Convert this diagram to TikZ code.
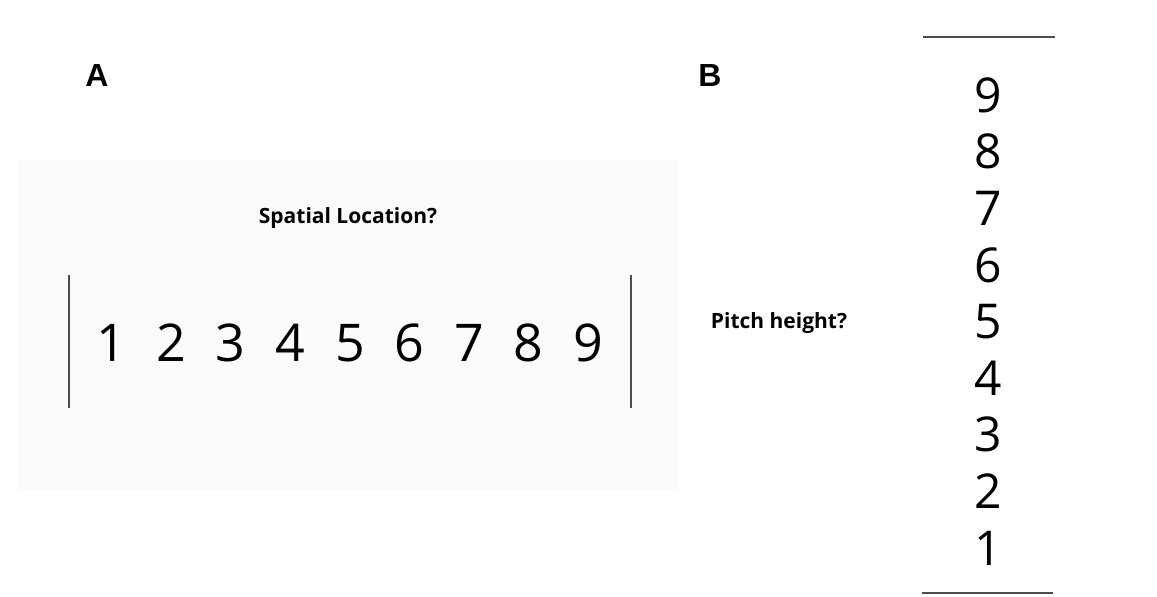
\documentclass[tikz,border=0pt]{standalone}
\usepackage{fontspec}
\setmainfont{Open Sans}
\newfontfamily\labelfont{Liberation Sans}
\usetikzlibrary{positioning}
\definecolor{panelgrey}{RGB}{251,251,251}
\tikzset{
  digit/.style={inner sep=0pt, font=\fontsize{26}{30}\selectfont},
  vdigit/.style={inner sep=0pt, font=\fontsize{24}{28}\selectfont},
  question/.style={inner sep=0pt, font=\fontsize{10.5}{12}\selectfont\bfseries},
  panel/.style={inner sep=0pt, font=\fontsize{16}{18}\selectfont\labelfont\bfseries},
  bar/.style={line width=0.8pt, black!70}
}
\begin{document}
\begin{tikzpicture}[x=0.5pt,y=-0.5pt]
		\useasboundingbox (0,0) rectangle (1157,596);
		%Panel A: horizontal scale
		\fill[panelgrey] (18,160) rectangle (678,490);
		\node[panel] (labA) at (97,75) {A};
		\node[question] (spatial) at (348,218) {Spatial Location?};
		\coordinate (leftTop) at (69,275);
		\coordinate (leftBot) at (69,408);
		\coordinate (rightTop) at (631,275);
		\coordinate (rightBot) at (631,408);
		\draw[bar] (leftTop) -- (leftBot);
		\draw[bar] (rightTop) -- (rightBot);
		\foreach \n in {1,...,9}
			\node[digit] (h\n) at ({111.5+59.6*(\n-1)},343) {\n};
		%Panel B: vertical scale
		\node[panel] (labB) at (710,75) {B};
		\node[question] (pitch) at (779,323) {Pitch height?};
		\coordinate (topL) at (923,37);
		\coordinate (topR) at (1055,37);
		\coordinate (botL) at (922,593);
		\coordinate (botR) at (1053,593);
		\draw[bar] (topL) -- (topR);
		\draw[bar] (botL) -- (botR);
		\foreach \n in {1,...,9}
			\node[vdigit] (v\n) at (988,{548-56.6*(\n-1)}) {\n};
\end{tikzpicture}
\end{document}
